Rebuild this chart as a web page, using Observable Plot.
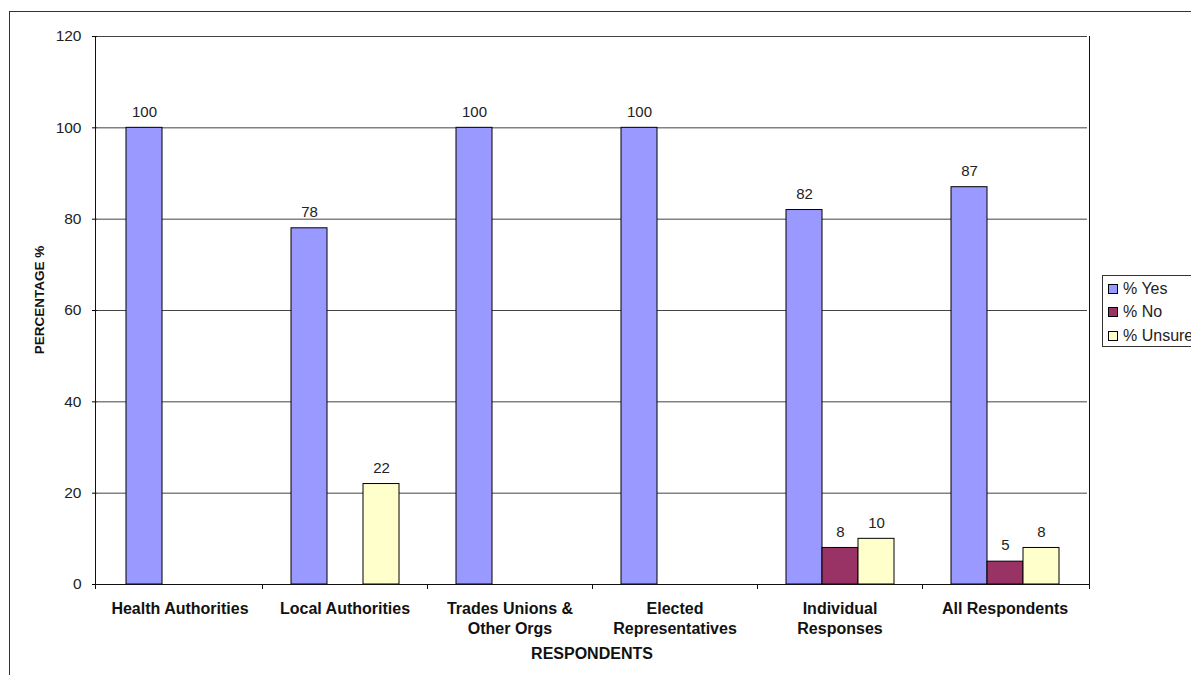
<!DOCTYPE html>
<html>
<head>
<meta charset="utf-8">
<script src="https://cdn.jsdelivr.net/npm/d3@7"></script>
<script src="https://cdn.jsdelivr.net/npm/@observablehq/plot@0.6"></script>
<style>
  html, body { margin: 0; padding: 0; background: #fff; }
  #wrap { position: relative; width: 1191px; height: 675px; overflow: hidden; font-family: "Liberation Sans", Arial, sans-serif; }
  #wrap svg { position: absolute; left: 0; top: 0; }
  #outline { position: absolute; left: 9px; top: 11px; right: -2px; bottom: -2px; border-left: 1px solid #333; border-top: 1px solid #333; }
  #legend { position: absolute; left: 1102px; top: 275px; width: 100px; height: 72px; border: 1px solid #333; background: #fff; box-sizing: border-box; padding: 1px 0 0 5px; }
  .item { height: 23.5px; display: flex; align-items: center; font-size: 16px; color: #222; white-space: nowrap; }
  .sw { width: 8px; height: 8px; border: 1px solid #000; margin-right: 5px; flex: none; }
</style>
</head>
<body>
<div id="wrap">
  <div id="outline"></div>
</div>
<script>
// Respondent groups and their answers (percent)
const categories = ["Health Authorities", "Local Authorities", "Trades Unions & Other Orgs", "Elected Representatives", "Individual Responses", "All Respondents"];
const categoryLabels = ["Health Authorities", "Local Authorities", "Trades Unions &\nOther Orgs", "Elected\nRepresentatives", "Individual\nResponses", "All Respondents"];
const series = ["% Yes", "% No", "% Unsure"];
const yesValues = [100, 78, 100, 100, 82, 87];
const noValues = [0, 0, 0, 0, 8, 5];
const unsureValues = [0, 22, 0, 0, 10, 8];
const seriesColors = ["#9999FF", "#993366", "#FFFFCC"];
const yTicks = [0, 20, 40, 60, 80, 100, 120];

const valuesBySeries = [yesValues, noValues, unsureValues];
const rows = [];
categories.forEach((c, i) => {
  series.forEach((s, j) => {
    const v = valuesBySeries[j][i];
    if (v > 0) rows.push({category: c, series: s, value: v});
  });
});
const labelOf = new Map(categories.map((c, i) => [c, categoryLabels[i]]));

const W = 1191, H = 675;
const chart = Plot.plot({
  width: W,
  height: H,
  marginLeft: 95,
  marginRight: 102,
  marginTop: 36,
  marginBottom: 91,
  style: {fontFamily: "'Liberation Sans', Arial, sans-serif", background: "transparent", color: "#222"},
  fx: {domain: categories, padding: 0, axis: null},
  x: {domain: series, paddingInner: 0, paddingOuter: 0.77, axis: null},
  y: {domain: [0, 120], axis: null},
  color: {domain: series, range: seriesColors},
  marks: [
    Plot.ruleY(yTicks, {stroke: "#444", strokeWidth: 1}),
    Plot.barY(rows, {fx: "category", x: "series", y: "value", fill: "series", stroke: "#000", strokeWidth: 1}),
    Plot.text(rows, {fx: "category", x: "series", y: "value", text: d => String(d.value), dy: -16, fontSize: 15, fill: "#222"}),
    Plot.axisY({ticks: yTicks, tickSize: 5, tickPadding: 11, fontSize: 15.5, label: null, stroke: "#000"}),
    Plot.axisFx({anchor: "bottom", tickSize: 0, tickPadding: 15, fontSize: 16, fontWeight: "bold", lineHeight: 1.27, label: null, tickFormat: c => labelOf.get(c), fill: "#111"})
  ]
});

// Plot-area outline, category boundary ticks and axis titles
const svg = d3.select(chart);
const fx = chart.scale("fx");
const y = chart.scale("y");
const x0 = fx.range[0], x1 = fx.range[1];
const y0 = y.apply(0), yTop = y.apply(120);
const g = svg.append("g").attr("stroke", "#111").attr("shape-rendering", "crispEdges");
g.append("line").attr("x1", x0).attr("x2", x0).attr("y1", yTop).attr("y2", y0 + 5);
g.append("line").attr("x1", x1).attr("x2", x1).attr("y1", yTop).attr("y2", y0 + 5);
g.append("line").attr("x1", x0).attr("x2", x1).attr("y1", y0).attr("y2", y0);
categories.slice(1).forEach(c => {
  const bx = fx.apply(c);
  g.append("line").attr("x1", bx).attr("x2", bx).attr("y1", y0).attr("y2", y0 + 5);
});
svg.append("text")
  .attr("x", (x0 + x1) / 2).attr("y", 653).attr("dy", "0.35em")
  .attr("text-anchor", "middle").attr("font-weight", "bold").attr("font-size", 16).attr("fill", "#111")
  .text("RESPONDENTS");
svg.append("text")
  .attr("transform", `translate(39,${(yTop + y0) / 2 - 10}) rotate(-90)`).attr("dy", "0.35em")
  .attr("text-anchor", "middle").attr("font-weight", "bold").attr("font-size", 13.5).attr("fill", "#111")
  .text("PERCENTAGE %");

const wrap = document.getElementById("wrap");
wrap.appendChild(chart);

// Legend
const legend = document.createElement("div");
legend.id = "legend";
series.forEach((s, i) => {
  const item = document.createElement("div");
  item.className = "item";
  const sw = document.createElement("span");
  sw.className = "sw";
  sw.style.background = seriesColors[i];
  item.appendChild(sw);
  item.appendChild(document.createTextNode(s));
  legend.appendChild(item);
});
wrap.appendChild(legend);
</script>
</body>
</html>
